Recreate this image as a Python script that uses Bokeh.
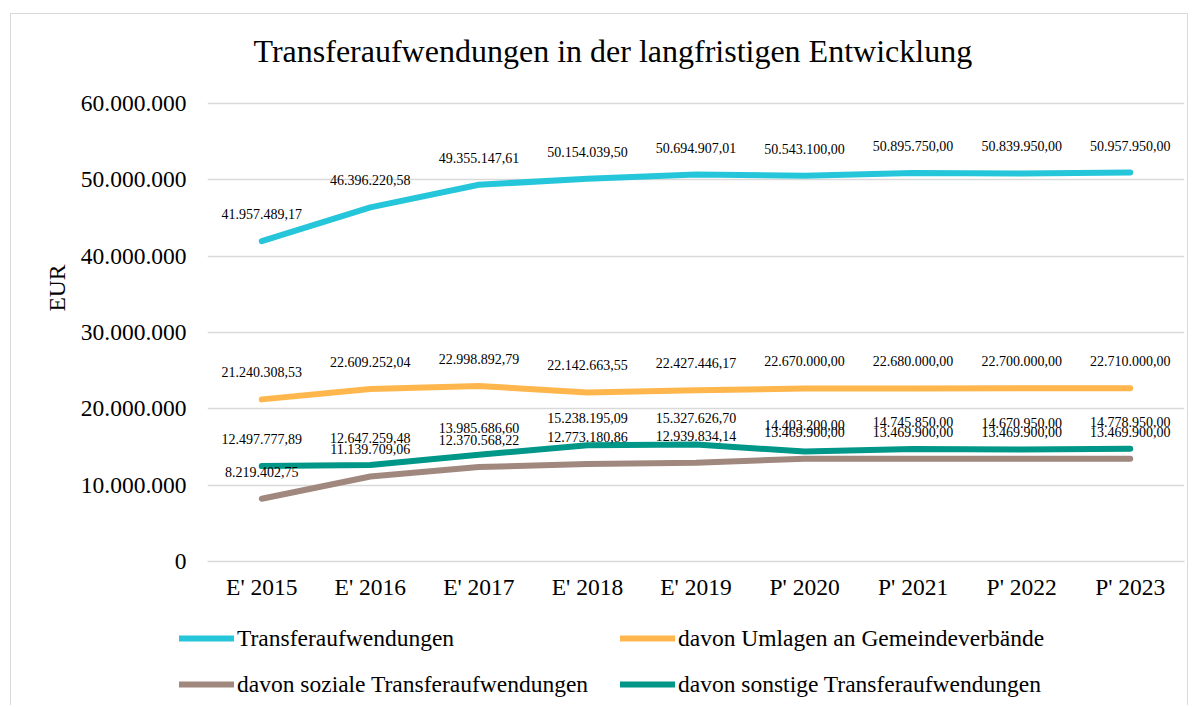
from bokeh.plotting import figure
from bokeh.models import (FactorRange, Range1d, FixedTicker, CustomJSTickFormatter,
                          ColumnDataSource, Legend, LegendItem, Label)
from bokeh.core.properties import value
from bokeh.embed import file_html
from bokeh.resources import INLINE

# ---------------- data ----------------
categories = ["E' 2015", "E' 2016", "E' 2017", "E' 2018", "E' 2019",
              "P' 2020", "P' 2021", "P' 2022", "P' 2023"]
transferaufwendungen = [41957489.17, 46396220.58, 49355147.61, 50154039.50, 50694907.01,
                        50543100.00, 50895750.00, 50839950.00, 50957950.00]
umlagen = [21240308.53, 22609252.04, 22998892.79, 22142663.55, 22427446.17,
           22670000.00, 22680000.00, 22700000.00, 22710000.00]
soziale = [8219402.75, 11139709.06, 12370568.22, 12773180.86, 12939834.14,
           13469900.00, 13469900.00, 13469900.00, 13469900.00]
sonstige = [12497777.89, 12647259.48, 13985686.60, 15238195.09, 15327626.70,
            14403200.00, 14745850.00, 14670950.00, 14778950.00]
series_names = ["Transferaufwendungen", "davon Umlagen an Gemeindeverbände",
                "davon soziale Transferaufwendungen", "davon sonstige Transferaufwendungen"]
series_colors = ["#26C6DA", "#FFB74D", "#A1887F", "#009688"]
y_ticks = [0, 10000000, 20000000, 30000000, 40000000, 50000000, 60000000]
y_max = 71660000  # upper axis limit (room for the title inside the plot area)
title_text = "Transferaufwendungen in der langfristigen Entwicklung"
y_label = "EUR"

FONT = "Liberation Serif"
BORDER = "1px solid #d9d9d9"


def de_fmt(v):
    s = f"{v:,.2f}"
    return s.replace(",", "X").replace(".", ",").replace("X", ".")


p = figure(width=1178, height=596,
           x_range=FactorRange(*categories, range_padding=0),
           y_range=Range1d(0, y_max),
           output_backend="svg", toolbar_location=None,
           min_border_left=196, min_border_right=5,
           min_border_top=0, min_border_bottom=49)
p.title = None
p.styles = {"border-left": BORDER, "border-right": BORDER, "border-top": BORDER,
            "margin-left": "10px", "margin-top": "13px"}

p.outline_line_color = None
p.background_fill_color = "white"
p.border_fill_color = "white"

p.xgrid.grid_line_color = None
p.ygrid.grid_line_color = "#d9d9d9"
p.ygrid.grid_line_width = 1.5

p.yaxis.ticker = FixedTicker(ticks=y_ticks)
p.yaxis.formatter = CustomJSTickFormatter(code="""
    if (tick === 0) { return '0'; }
    return Math.round(tick).toString().replace(/\\B(?=(\\d{3})+(?!\\d))/g, '.');
""")
p.yaxis.axis_line_color = None
p.yaxis.major_tick_line_color = None
p.yaxis.minor_tick_line_color = None
p.yaxis.major_label_standoff = 15
p.yaxis.major_label_text_font = FONT
p.yaxis.major_label_text_font_size = "23.5px"
p.yaxis.major_label_text_color = "#000000"
p.yaxis.axis_label = y_label
p.yaxis.axis_label_text_font = FONT
p.yaxis.axis_label_text_font_size = "23.5px"
p.yaxis.axis_label_text_font_style = "normal"
p.yaxis.axis_label_text_color = "#000000"
p.yaxis.axis_label_standoff = 8

p.xaxis.axis_line_color = "#d9d9d9"
p.xaxis.axis_line_width = 1.5
p.xaxis.major_tick_line_color = None
p.xaxis.minor_tick_line_color = None
p.xaxis.major_label_standoff = 6
p.xaxis.major_label_text_font = FONT
p.xaxis.major_label_text_font_size = "23.5px"
p.xaxis.major_label_text_color = "#000000"

p.add_layout(Label(x=46, y=511, x_units="screen", y_units="screen", text=title_text,
                   text_font=FONT, text_font_size="32px", text_color="#000000",
                   text_align="left", text_baseline="middle"))

all_series = [transferaufwendungen, umlagen, soziale, sonstige]
for vals, col in zip(all_series, series_colors):
    src = ColumnDataSource(dict(x=categories, y=vals))
    p.line(x="x", y="y", source=src, line_color=col, line_width=6,
           line_cap="round", line_join="round")
for vals in all_series:
    src = ColumnDataSource(dict(x=categories, y=vals, lab=[de_fmt(v) for v in vals]))
    p.text(x="x", y="y", text="lab", source=src, text_font=value(FONT),
           text_font_size="14px", text_align="center", text_baseline="middle",
           y_offset=-27, text_color="#000000")

# ---------------- legend (separate strip below the chart) ----------------
pl = figure(width=1178, height=96, x_range=Range1d(0, 1), y_range=Range1d(0, 1),
            x_axis_location=None, y_axis_location=None,
            output_backend="svg", toolbar_location=None,
            min_border_left=0, min_border_right=0, min_border_top=0, min_border_bottom=0)
pl.title = None
pl.grid.visible = False
pl.outline_line_color = None
pl.background_fill_color = "white"
pl.border_fill_color = "white"
pl.styles = {"border-left": BORDER, "border-right": BORDER, "margin-left": "10px"}
leg_renderers = []
for col in series_colors:
    # legend keys only: drawn below the visible range
    leg_renderers.append(pl.line(x=[0.0, 0.1], y=[-5.0, -5.0], line_color=col,
                                 line_width=6, line_cap="round"))

legend = Legend(items=[LegendItem(label=n, renderers=[r]) for n, r in zip(series_names, leg_renderers)],
                orientation="horizontal", ncols=2, location=(168, -2),
                label_text_font=FONT, label_text_font_size="23.5px",
                label_text_color="#000000",
                glyph_width=55, glyph_height=20, label_height=46, label_width=383,
                label_standoff=3, spacing=0, padding=0, margin=0,
                border_line_color=None, background_fill_alpha=0)
pl.add_layout(legend)

open("out.html", "w").write(file_html([p, pl], INLINE))
